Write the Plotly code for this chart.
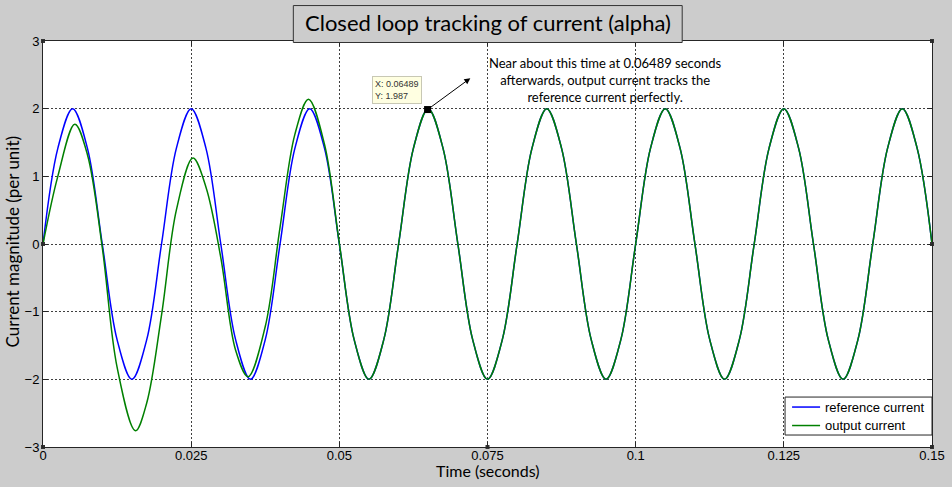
import plotly.graph_objects as go

# ---- data ----
ref_time = [0.0, 0.0025, 0.005, 0.0075, 0.01, 0.0125, 0.015, 0.0175, 0.02, 0.0225,
            0.025, 0.0275, 0.03, 0.0325, 0.035, 0.0375, 0.04, 0.0425, 0.045, 0.0475,
            0.05, 0.0525, 0.055, 0.0575, 0.06, 0.0625, 0.065, 0.0675, 0.07, 0.0725,
            0.075, 0.0775, 0.08, 0.0825, 0.085, 0.0875, 0.09, 0.0925, 0.095, 0.0975,
            0.1, 0.1025, 0.105, 0.1075, 0.11, 0.1125, 0.115, 0.1175, 0.12, 0.1225,
            0.125, 0.1275, 0.13, 0.1325, 0.135, 0.1375, 0.14, 0.1425, 0.145, 0.1475,
            0.15]
ref_current = [0, 1.414, 2, 1.414, 0, -1.414, -2, -1.414,
               0, 1.414, 2, 1.414, 0, -1.414, -2, -1.414,
               0, 1.414, 2, 1.414, 0, -1.414, -2, -1.414,
               0, 1.414, 2, 1.414, 0, -1.414, -2, -1.414,
               0, 1.414, 2, 1.414, 0, -1.414, -2, -1.414,
               0, 1.414, 2, 1.414, 0, -1.414, -2, -1.414,
               0, 1.414, 2, 1.414, 0, -1.414, -2, -1.414,
               0, 1.414, 2, 1.414, 0]

out_time = [0.0, 0.0025, 0.00537, 0.0075, 0.01, 0.0125, 0.0156, 0.0175, 0.02, 0.0225,
            0.0253, 0.0275, 0.03, 0.0325, 0.0346, 0.0375, 0.04, 0.0425, 0.0448, 0.0475,
            0.05, 0.0525, 0.055, 0.0575, 0.06, 0.0625, 0.065, 0.0675, 0.07, 0.0725,
            0.075, 0.0775, 0.08, 0.0825, 0.085, 0.0875, 0.09, 0.0925, 0.095, 0.0975,
            0.1, 0.1025, 0.105, 0.1075, 0.11, 0.1125, 0.115, 0.1175, 0.12, 0.1225,
            0.125, 0.1275, 0.13, 0.1325, 0.135, 0.1375, 0.14, 0.1425, 0.145, 0.1475,
            0.15]
out_current = [0, 1.0, 1.77, 1.32, -0.05, -1.82, -2.76, -2.35, -1.05, 0.5,
               1.27, 0.84, -0.2, -1.57, -1.96, -1.22, 0.25, 1.62, 2.14, 1.47,
               0.01, -1.414, -2, -1.414,
               0, 1.414, 2, 1.414, 0, -1.414, -2, -1.414,
               0, 1.414, 2, 1.414, 0, -1.414, -2, -1.414,
               0, 1.414, 2, 1.414, 0, -1.414, -2, -1.414,
               0, 1.414, 2, 1.414, 0, -1.414, -2, -1.414,
               0, 1.414, 2, 1.414, 0]

series_names = ["reference current", "output current"]
series_colors = ["#0000ff", "#008000"]

x_ticks = [0, 0.025, 0.05, 0.075, 0.1, 0.125, 0.15]
x_tick_labels = ["0", "0.025", "0.05", "0.075", "0.1", "0.125", "0.15"]
y_ticks = [-3, -2, -1, 0, 1, 2, 3]

tip_t = 0.06489
tip_v = 1.987
arrow_head = (0.0721, 2.45)

title_text = "Closed loop tracking of current (alpha)"
note_text = ("Near about this time at 0.06489 seconds<br>"
             "afterwards, output current tracks the<br>"
             "reference current perfectly.")

handle_x = [0, 0.075, 0.15, 0, 0.15, 0, 0.075, 0.15]
handle_y = [3, 3, 3, 0, 0, -3, -3, -3]

# ---- figure ----
fig = go.Figure()
fig.add_trace(go.Scatter(
    x=ref_time, y=ref_current, mode="lines", name=series_names[0], showlegend=False,
    line=dict(color=series_colors[0], width=1.5, shape="spline", smoothing=1)))
fig.add_trace(go.Scatter(
    x=out_time, y=out_current, mode="lines", name=series_names[1], showlegend=False,
    line=dict(color=series_colors[1], width=1.5, shape="spline", smoothing=1)))
fig.add_trace(go.Scatter(
    x=[tip_t], y=[tip_v], mode="markers", showlegend=False,
    marker=dict(symbol="square", size=7, color="black"), cliponaxis=False))
fig.add_trace(go.Scatter(
    x=handle_x, y=handle_y, mode="markers", showlegend=False,
    marker=dict(symbol="square", size=4, color="#333333"), cliponaxis=False))

axis_common = dict(
    showline=True, linecolor="#262626", linewidth=1, mirror="ticks",
    ticks="inside", ticklen=5, tickcolor="#262626",
    showgrid=True, gridcolor="#404040", gridwidth=1, griddash="2px,2px",
    zeroline=False, automargin=False,
    tickfont=dict(family="Liberation Sans, Arial", size=13, color="black"),
)

fig.update_layout(
    width=952, height=487, autosize=False,
    paper_bgcolor="#cccccc", plot_bgcolor="white",
    margin=dict(l=43, r=20, t=41, b=40, pad=0, autoexpand=False),
    xaxis=dict(range=[0, 0.15], tickvals=x_ticks, ticktext=x_tick_labels,
               ticklabelstandoff=-4, **axis_common),
    yaxis=dict(range=[-3, 3], tickvals=y_ticks, **axis_common),
    showlegend=False,
)

# legend (MATLAB style, drawn in paper coordinates)
fig.add_shape(type="rect", xref="paper", yref="paper",
              x0=0.8347, x1=1.0, y0=0.0295, y1=0.123,
              line=dict(color="#262626", width=1), fillcolor="white", layer="above")
legend_rows = [0.0984, 0.0529]
for name, color, yy in zip(series_names, series_colors, legend_rows):
    fig.add_shape(type="line", xref="paper", yref="paper",
                  x0=0.8426, x1=0.8741, y0=yy, y1=yy,
                  line=dict(color=color, width=1.5), layer="above")
    fig.add_annotation(xref="paper", yref="paper", x=0.8775, y=yy,
                       text=name, showarrow=False, xanchor="left", yanchor="middle",
                       font=dict(family="Liberation Sans, Arial", size=13, color="black"))

# title box
fig.add_shape(type="rect", xref="paper", yref="paper",
              x0=0.2816, x1=0.719, y0=0.9963, y1=1.0873,
              line=dict(color="#333333", width=1), fillcolor="#cccccc", layer="above")
fig.add_annotation(xref="paper", yref="paper", x=0.5, y=1.0455,
                   text=title_text, showarrow=False,
                   font=dict(family="Lato", size=22, color="black"),
                   xanchor="center", yanchor="middle")

# axis titles
fig.add_annotation(xref="paper", yref="paper", x=0.5, y=-0.057,
                   text="Time (seconds)", showarrow=False,
                   font=dict(family="Lato", size=16, color="black"),
                   xanchor="center", yanchor="middle")
fig.add_annotation(xref="paper", yref="paper", x=-0.0343, y=0.505,
                   text="Current magnitude (per unit)", showarrow=False, textangle=-90,
                   font=dict(family="Lato", size=17, color="black"),
                   xanchor="center", yanchor="middle")

# data tip
fig.add_annotation(x=tip_t, y=tip_v, xref="x", yref="y",
                   text="X: 0.06489<br>Y: 1.987", showarrow=False, align="left",
                   xanchor="right", yanchor="bottom", xshift=-6, yshift=6,
                   bgcolor="#ffffe1", bordercolor="#c8c8b4", borderwidth=1, borderpad=2,
                   font=dict(family="Liberation Sans, Arial", size=9, color="#333333"))

# arrow from data tip to note
fig.add_annotation(x=arrow_head[0], y=arrow_head[1], xref="x", yref="y",
                   ax=tip_t, ay=tip_v, axref="x", ayref="y",
                   text="", showarrow=True, arrowhead=2, arrowsize=1.2,
                   arrowwidth=1, arrowcolor="black")

# note text
fig.add_annotation(x=0.0949, y=2.43, xref="x", yref="y",
                   text=note_text, showarrow=False, align="center",
                   xanchor="center", yanchor="middle",
                   font=dict(family="Lato", size=13, color="black"))

fig.write_html("out.html")
